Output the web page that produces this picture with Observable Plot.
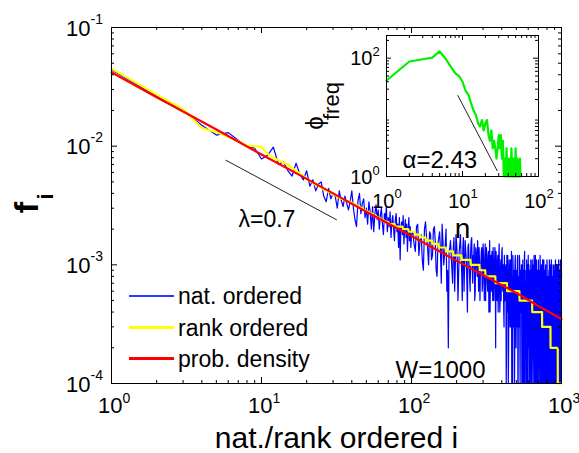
<!DOCTYPE html>
<html><head><meta charset="utf-8">
<script src="https://cdn.jsdelivr.net/npm/d3@7"></script>
<script src="https://cdn.jsdelivr.net/npm/@observablehq/plot@0.6"></script>
<style>
html,body{margin:0;padding:0;background:#fff;}
#wrap{position:relative;width:579px;height:453px;overflow:hidden;font-family:"Liberation Sans",Arial,sans-serif;}
#wrap svg{position:absolute;left:0;top:0;}
.legline{position:absolute;}
.legtext{position:absolute;font-size:23px;line-height:23px;white-space:nowrap;color:#000;}
</style></head><body><div id="wrap"></div>
<script>
// ---------- data (counts per 10^4 words) ----------
const TOTAL = 10000;
// natural ordered, ranks 1..100
const natHead = [440,265,200,150,124,130,112,100,96,78,84,98,70,74,62,56,72,58,52,62,
  46,52,42,48,50,38,34,44,36,40,38,30,42,35,31,38,33,29,34,42,
  30,24,21,35,40,27,33,36,25,30,22,34,28,20,31,19,27,32,24,29,
  20,26,30,22,18,27,24,31,19,25,21,28,17,23,26,20,16,24,27,19,
  22,14,25,11,21,23,18,26,15,20,24,17,22,13,19,25,16,21,14,18];
// natural ordered, ranks 104..1000 every 4th rank
const natTailAStart = 104, natTailStep = 4;
const natTailA = [15,21,12,18,9,23,14,19,
  11,20,16,8,17,13,22,10,15,6,2,14,
  12,7,17,10,15,5,13,18,9,14,6,16,11,4,15,8,13,17,7,12,5,14,10,16,6,11,9,
  13,6,15,8,11,5,14,7,12,4,16,9,6,13,5,10,7,14,2,11,5,12,6,15,4,9,5,13,7,10,4,12,6,
  9,1,12,4,7,2,11,5,8,3,
  13,6,1,10,4,9,2,12,5,7,
  3,11,1,8,6,12,2,9,4,10,
  1,7,11,3,8,1,13,5,2,9,
  6,1,10,4,12,2,7,1,9,5,
  11,3,1,8,6,10,1,4,12,2,
  7,9,1,5,11,3,1,8,6,10,
  2,1,9,4,12,1,6,3,10,1,
  7,11,2,5,1,9,4,1,8,3,
  10,1,6,2,11,1,5,8,1,4,
  9,2,1,7,10,3,1,6,11,1,
  4,8,1,2,9,5,1,10,3,1,
  7,1,11,4,1,6,9,2,1,8,
  3,10,1,5,1,7,2,9,1,4,
  11,1,6,2,8];
// natural ordered, ranks 102..998 every 4th rank
const natTailBStart = 102;
const natTailB = [19,13,22,16,11,20,17,10,
  18,12,21,9,15,19,7,16,12,20,9,13,
  16,9,14,6,18,11,8,15,12,5,17,10,13,7,14,11,6,16,9,12,15,6,13,8,11,14,5,
  10,14,7,12,5,15,9,11,6,13,8,4,12,10,7,14,5,11,9,13,6,10,4,12,8,5,11,9,14,6,10,3,8,
  5,10,2,8,12,1,6,9,3,11,
  4,1,8,12,3,7,1,10,6,2,
  9,5,12,1,7,3,11,1,8,5,
  10,2,6,1,9,4,12,1,7,3,
  1,11,5,8,1,3,10,6,1,8,
  4,1,9,2,11,5,1,7,3,10,
  1,6,12,2,8,1,4,9,1,5,
  11,3,1,7,2,10,1,8,5,1,
  4,9,1,6,1,11,3,2,9,1,
  6,1,8,3,1,10,4,1,7,2,
  1,5,11,1,3,8,1,6,9,2,
  1,7,3,1,10,2,6,1,8,4,
  1,9,2,5,1,7,1,10,3,6,
  1,8,1,4,11,2,1,6,1,9,
  3,1,7,2,10];
// rank ordered: plateau start ranks and counts
const rankStart = [1,2,3,4,5,6,7,8,9,10,11,12,13,14,15,16,17,18,19,20,21,22,23,25,26,28,30,32,34,36,38,40,42,44,46,48,50,53,56,59,62,66,71,78,88,96,106,115,125,138,152,170,190,216,248,285,311,363,434,525,638,743,845,945];
const rankCount = [450,272,205,142,131,120,110,101,100,99,86,80,76,73,70,66,62,59,56,53,51,49,47,45,43,41,39,37,36,35,34,33,32,31,30,29,28,27,26,25,24,23,22,21,20,19,18,17,16,15,14,13,12,11,10,9,8,7,6,5,4,3,2,1];
const rankEnd = 1000;
// probability density
const densRank = [1,2,3,5,10,20,30,50,100,200,300,500,700,1000];
const densCount = [420,258,196,138,85,53,40,28,17.5,10.8,8.2,5.8,4.5,3.5];
// lambda = 0.7 guide line
const lambdaFitX = [5.8, 31.6];
const lambdaFitY = [0.0076, 0.0024];
// inset: phi_freq vs n
const insetN = [1,2,3,4,5,6,7,8,9,10,11,12,13,14,15,16,17,18,19,20,21,22,23,24,25,26,27,28,29,30,31,32,33,34,35,36,37,38,39,40,41,42,43,44,45,46,47,48,49,50,51,52,53,54,55,56,57,58];
const insetPhi = [42,88,96,102,130,98,72,56,50,40,28,24,17,13,11,8,7,9,6,8,9,5,4,6,3,4,3,2,3,5,3,5,2,4,1,2,1,3,1,1,2,1,1,3,1,1,2,1,1,3,1,1,2,1,1,1,2,1];
const alphaFitN = [8.7, 28.6];
const alphaFitPhi = [23.3, 1.25];
// ticks
const mainXMajor = [1,10,100,1000];
const mainYMajor = [1e-4,1e-3,1e-2,1e-1];
const insetXMajor = [1,10,100];
const insetYMajor = [1,100];
const legendLabels = ["nat. ordered","rank ordered","prob. density"];
const legendColors = ["#2a3cff","#ffff00","#ff0000"];

// ---------- build ----------
const FONT = '"Liberation Sans", Arial, "DejaVu Sans", sans-serif';
const minorOf = (decs, max) => decs.flatMap(d => [2,3,4,5,6,7,8,9].map(k => k*d)).filter(v => v <= max);

const natData = natHead.map((c,k) => ({i:k+1, f:c/TOTAL}))
  .concat(natTailA.map((c,k) => ({i:natTailAStart + k*natTailStep, f:c/TOTAL})))
  .concat(natTailB.map((c,k) => ({i:natTailBStart + k*natTailStep, f:c/TOTAL})))
  .sort((a,b) => a.i - b.i);
const rankData = rankStart.flatMap((s,k) => {
  const e = k+1 < rankStart.length ? rankStart[k+1]-1 : rankEnd;
  return [{i:s, f:rankCount[k]/TOTAL}, {i:e, f:rankCount[k]/TOTAL}];
});
const densData = densRank.map((r,k) => ({i:r, f:densCount[k]/TOTAL}));
const lamData = lambdaFitX.map((x,k) => ({i:x, f:lambdaFitY[k]}));
const insetData = insetN.map((n,k) => ({n, p:insetPhi[k]}));
const alphaData = alphaFitN.map((n,k) => ({n, p:alphaFitPhi[k]}));

function ticks(xMaj, xMin, yMaj, yMin, iw, ih, big, small) {
  const m = [];
  for (const [xs, len] of [[xMaj,big],[xMin,small]]) {
    m.push(Plot.ruleX(xs, {x:d=>d, insetTop: ih-len, stroke:"#000", strokeWidth:1}));
    m.push(Plot.ruleX(xs, {x:d=>d, insetBottom: ih-len, stroke:"#000", strokeWidth:1}));
  }
  for (const [ys, len] of [[yMaj,big],[yMin,small]]) {
    m.push(Plot.ruleY(ys, {y:d=>d, insetRight: iw-len, stroke:"#000", strokeWidth:1}));
    m.push(Plot.ruleY(ys, {y:d=>d, insetLeft: iw-len, stroke:"#000", strokeWidth:1}));
  }
  return m;
}
const exp10 = d => String(Math.round(Math.log10(d)));

const W = 579, H = 453;
const mL = 111, mR = 18, mT = 27, mB = 70;
const iw = W-mL-mR, ih = H-mT-mB;

const main = Plot.plot({
  width: W, height: H,
  marginLeft: mL, marginRight: mR, marginTop: mT, marginBottom: mB,
  style: {fontFamily: FONT, background: "white", overflow: "visible"},
  x: {type: "log", domain: [1, 1000], axis: null},
  y: {type: "log", domain: [1e-4, 1e-1], axis: null},
  marks: [
    Plot.line(natData, {x:"i", y:"f", stroke:"#0000ff", strokeWidth:1.2}),
    Plot.line(rankData, {x:"i", y:"f", stroke:"#ffff00", strokeWidth:2.2}),
    Plot.line(densData, {x:"i", y:"f", stroke:"#ff0000", strokeWidth:2.2}),
    Plot.line(lamData, {x:"i", y:"f", stroke:"#222", strokeWidth:1}),
    ...ticks(mainXMajor, minorOf([1,10,100],1000), mainYMajor, minorOf([1e-4,1e-3,1e-2],0.1), iw, ih, 6, 3),
    Plot.frame({stroke:"#000", strokeWidth:1}),
    // x tick labels
    Plot.text(mainXMajor, {x:d=>d, frameAnchor:"bottom", text:()=>"10", textAnchor:"end", lineAnchor:"bottom", dx:11, dy:29, fontSize:22}),
    Plot.text(mainXMajor, {x:d=>d, frameAnchor:"bottom", text:exp10, textAnchor:"start", lineAnchor:"bottom", dx:11, dy:19, fontSize:14}),
    // y tick labels
    Plot.text(mainYMajor, {y:d=>d, frameAnchor:"left", text:()=>"10", textAnchor:"end", lineAnchor:"bottom", dx:-21, dy:8, fontSize:22}),
    Plot.text(mainYMajor, {y:d=>d, frameAnchor:"left", text:exp10, textAnchor:"start", lineAnchor:"bottom", dx:-21, dy:-4, fontSize:14}),
    // axis labels
    Plot.text(["nat./rank ordered i"], {frameAnchor:"bottom", lineAnchor:"bottom", dy:64, fontSize:30}),
    Plot.text(["f"], {frameAnchor:"left", rotate:-90, lineAnchor:"bottom", textAnchor:"middle", dx:-74, dy:2, fontSize:34, fontWeight:"bold"}),
    Plot.text(["i"], {frameAnchor:"left", rotate:-90, lineAnchor:"bottom", textAnchor:"start", dx:-59, dy:-6, fontSize:22, fontWeight:"bold"}),
    // annotations
    Plot.text(["λ=0.7"], {frameAnchor:"top-left", textAnchor:"start", lineAnchor:"bottom", dx:127, dy:199, fontSize:23}),
    Plot.text(["W=1000"], {frameAnchor:"top-left", textAnchor:"start", lineAnchor:"bottom", dx:284, dy:350, fontSize:24})
  ]
});

// inset
const imL = 386, imR = 41, imT = 35, imB = 277;
const iiw = W-imL-imR, iih = H-imT-imB;
const inset = Plot.plot({
  width: W, height: H,
  marginLeft: imL, marginRight: imR, marginTop: imT, marginBottom: imB,
  style: {fontFamily: FONT, background: "transparent", overflow: "visible"},
  x: {type: "log", domain: [1, 100], axis: null},
  y: {type: "log", domain: [1, 242], axis: null},
  marks: [
    Plot.frame({fill:"white", stroke:null}),
    Plot.line(insetData, {x:"n", y:"p", stroke:"#00f000", strokeWidth:2.2}),
    Plot.line(alphaData, {x:"n", y:"p", stroke:"#222", strokeWidth:1}),
    ...ticks(insetXMajor, minorOf([1,10],100), insetYMajor, minorOf([1,10,100],242), iiw, iih, 5, 3),
    Plot.frame({stroke:"#000", strokeWidth:1}),
    Plot.text(insetXMajor, {x:d=>d, frameAnchor:"bottom", text:()=>"10", textAnchor:"end", lineAnchor:"bottom", dx:8, dy:31, fontSize:20}),
    Plot.text(insetXMajor, {x:d=>d, frameAnchor:"bottom", text:exp10, textAnchor:"start", lineAnchor:"bottom", dx:8, dy:21, fontSize:13}),
    Plot.text(insetYMajor, {y:d=>d, frameAnchor:"left", text:()=>"10", textAnchor:"end", lineAnchor:"bottom", dx:-14, dy:7, fontSize:20}),
    Plot.text(insetYMajor, {y:d=>d, frameAnchor:"left", text:exp10, textAnchor:"start", lineAnchor:"bottom", dx:-14, dy:-2, fontSize:13}),
    Plot.text(["n"], {frameAnchor:"bottom", lineAnchor:"bottom", dy:61, fontSize:28}),
    Plot.text(["ϕ"], {frameAnchor:"left", rotate:-90, lineAnchor:"bottom", textAnchor:"middle", dx:-64, dy:17, fontSize:24}),
    Plot.text(["freq"], {frameAnchor:"left", rotate:-90, lineAnchor:"bottom", textAnchor:"start", dx:-48, dy:14, fontSize:22}),
    Plot.text(["α=2.43"], {frameAnchor:"bottom-left", textAnchor:"start", lineAnchor:"bottom", dx:16, dy:-9, fontSize:24})
  ]
});

const wrap = document.getElementById("wrap");
wrap.appendChild(main);
wrap.appendChild(inset);

// legend (inside main axes, no box)
const legY = [295.5, 327.5, 358.5];
const legW = [2, 2.5, 2.5];
legendLabels.forEach((lab, k) => {
  const ln = document.createElement("div");
  ln.className = "legline";
  ln.style.left = "129px"; ln.style.width = "45px";
  ln.style.top = Math.round(legY[k] - legW[k]/2) + "px";
  ln.style.height = legW[k] + "px";
  ln.style.backgroundColor = legendColors[k];
  wrap.appendChild(ln);
  const tx = document.createElement("div");
  tx.className = "legtext";
  tx.style.left = "178px"; tx.style.top = (legY[k] - 11) + "px";
  tx.textContent = lab;
  wrap.appendChild(tx);
});
</script></body></html>
